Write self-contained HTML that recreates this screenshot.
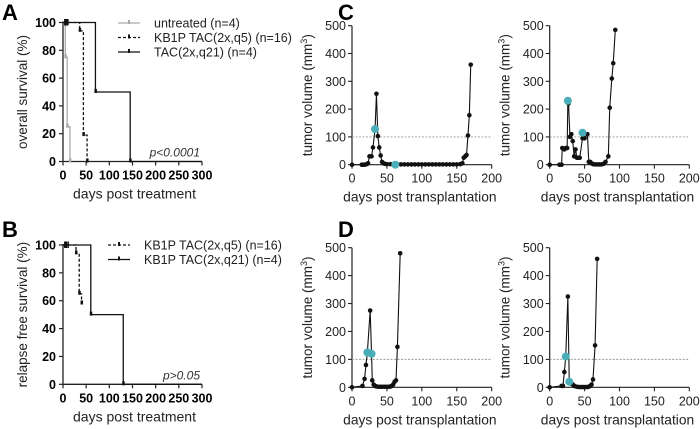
<!DOCTYPE html>
<html><head><meta charset="utf-8"><style>
html,body{margin:0;padding:0;background:#fff}
svg{display:block;font-family:"Liberation Sans",Arial,sans-serif}
</style></head><body>
<svg id="fig" width="700" height="429" viewBox="0 0 700 429" xmlns="http://www.w3.org/2000/svg"></svg>
<script>
// ---- survival data (A) ----
const aUntreatedT=[0,5,9,15];
const aUntreatedS=[100,75,25,0];
const aQ5T=[0,36,44,52];
const aQ5S=[100,94,19,0];
const aQ21T=[0,70,145];
const aQ21S=[100,50,0];
// ---- survival data (B) ----
const bQ5T=[0,28,35,40];
const bQ5S=[100,94,65,58];
const bQ21T=[0,60,130];
const bQ21S=[100,50,0];
const survXTicks=[0,50,100,150,200,250,300];
const survYTicks=[0,20,40,60,80,100];
// ---- tumor volume data ----
const c1Days=[0,14,16,18,21,23,25,28,30,33,35,37,39,41,43,45,47,50,55,60,65,70,75,80,85,90,95,100,105,110,115,120,125,130,135,140,145,150,155,158,160,162,164,166,168,170];
const c1Vol=[0,0,0,0,2,5,30,30,62,128,255,103,62,33,10,5,3,2,2,1,1,1,1,1,1,1,1,1,1,1,1,1,1,1,1,1,1,1,2,5,25,30,35,105,178,360];
const c1CyanD=[33,62];const c1CyanV=[128,0];
const c2Days=[0,14,17,18,21,23,25,26,27,29,31,33,35,37,39,41,43,47,50,54,56,58,60,62,65,68,71,74,77,80,84,86,89,91,94];
const c2Vol=[0,0,0,60,55,60,60,230,220,100,110,85,30,55,25,25,25,95,95,110,10,10,5,2,1,1,1,1,3,10,30,205,310,365,485];
const c2CyanD=[26,47];const c2CyanV=[230,115];
const d1Days=[0,15,18,20,22,26,28,29,31,33,35,38,41,44,47,50,53,55,57,59,61,63,65,69];
const d1Vol=[0,5,30,80,125,275,120,25,10,5,3,2,2,2,2,2,2,3,5,10,20,25,145,480];
const d1CyanD=[22,28];const d1CyanV=[125,120];
const d2Days=[0,17,19,21,23,26,28,30,32,34,36,39,42,45,48,51,54,56,58,60,62,65,68];
const d2Vol=[0,5,5,55,110,325,20,20,12,8,4,2,1,1,1,1,1,2,5,10,28,150,460];
const d2CyanD=[23,28];const d2CyanV=[110,20];
const volXTicks=[0,50,100,150,200];
const volYTicks=[0,100,200,300,400,500];

const NS="http://www.w3.org/2000/svg";
const svg=document.getElementById('fig');
function el(tag,attrs,parent,text){const e=document.createElementNS(NS,tag);for(const k in attrs)e.setAttribute(k,attrs[k]);if(text!==undefined)e.textContent=text;(parent||svg).appendChild(e);return e;}

function letter(ch,x,y){const t=el('text',{x:x,y:y,'font-size':22,'font-weight':'bold',fill:'#000'},svg,ch);

}

function survPanel(id,x0,x1,y0,y100,series,ylabel,ptext){
  const g=el('g',{});
  
  
  const sx=d=>x0+(x1-x0)*d/300, sy=v=>y0+(y100-y0)*v/100;
  const ax=el('path',{d:`M${x0},${y100-1}V${y0}H${x1}`,stroke:'#222',fill:'none','stroke-width':1.3},g);
  
  
  survXTicks.forEach(t=>{el('line',{x1:sx(t),x2:sx(t),y1:y0,y2:y0+4,stroke:'#222','stroke-width':1.2},g);
    const tl=el('text',{x:sx(t),y:y0+18,'font-size':12.5,'font-weight':'bold','text-anchor':'middle'},g,t);
    
    });
  survYTicks.forEach(t=>{el('line',{x1:x0-4,x2:x0,y1:sy(t),y2:sy(t),stroke:'#222','stroke-width':1.2},g);
    const tl=el('text',{x:x0-7,y:sy(t)+4.5,'font-size':12.5,'font-weight':'bold','text-anchor':'end'},g,t);
    
    });
  const xt=el('text',{x:(x0+x1)/2+2,y:y0+37,'font-size':14,'text-anchor':'middle',fill:'#222'},g,'days post treatment');
  
  
  const yt=el('text',{transform:`translate(${x0-36},${(y0+y100)/2}) rotate(-90)`,'font-size':13.5,'text-anchor':'middle',fill:'#222'},g,ylabel);
  
  
  const pt=el('text',{x:x1-2,y:y0-5,'font-size':12,'font-style':'italic','text-anchor':'end',fill:'#333'},g,ptext);
  
  
  series.forEach(s=>{
    let d=`M${sx(s.t[0])},${sy(s.s[0])}`;
    for(let i=1;i<s.t.length;i++){d+=`H${sx(s.t[i])}V${sy(s.s[i])}`;}
    if(s.tail) d+=`H${sx(s.tail)}`;
    const p=el('path',{d:d,stroke:s.c,fill:'none','stroke-width':1.3,'stroke-dasharray':s.dash||'none'},g);
    
    
    s.cens.forEach(c=>{el('line',{x1:sx(c),x2:sx(c),y1:sy(100)-3.5,y2:sy(100)+3,stroke:s.c,'stroke-width':1.6},g);});
    for(let i=1;i<s.t.length;i++){el('rect',{x:sx(s.t[i])-1,y:sy(s.s[i])-3,width:2.5,height:4,fill:s.c},g);}
  });
  return g;
}
function legend(x,y,items){
  items.forEach((it,i)=>{
    const yy=y+i*14.5;
    const g=el('g',{});
    
    
    el('line',{x1:x,x2:x+22,y1:yy,y2:yy,stroke:it.c,'stroke-width':1.3,'stroke-dasharray':it.dash||'none'},g);
    el('rect',{x:x+10,y:yy-3,width:2,height:4,fill:it.c},g);
    el('text',{x:x+36,y:yy+4.5,'font-size':12.5,fill:'#222'},g,it.label);
  });
}
function volPanel(id,x0,x1,y0,y500,days,vol,cd,cv){
  const g=el('g',{});
  
  
  const sx=d=>x0+(x1-x0)*d/200, sy=v=>y0+(y500-y0)*v/500;
  const ax=el('path',{d:`M${x0},${y500}V${y0}H${x1}`,stroke:'#222',fill:'none','stroke-width':1.2},g);
  
  
  const th=el('line',{x1:x0,x2:x1,y1:sy(100),y2:sy(100),stroke:'#999','stroke-width':0.9,'stroke-dasharray':'2,1.5'},g);
  
  
  volXTicks.forEach(t=>{el('line',{x1:sx(t),x2:sx(t),y1:y0,y2:y0+4,stroke:'#222','stroke-width':1.1},g);
    const tl=el('text',{x:sx(t),y:y0+18,'font-size':12.5,'text-anchor':'middle',fill:'#222'},g,t);
    
    });
  volYTicks.forEach(t=>{el('line',{x1:x0-4,x2:x0,y1:sy(t),y2:sy(t),stroke:'#222','stroke-width':1.1},g);
    const tl=el('text',{x:x0-6,y:sy(t)+4.5,'font-size':12.5,'text-anchor':'end',fill:'#222'},g,t);
    
    });
  const xt=el('text',{x:(x0+x1)/2-2,y:y0+37,'font-size':13.8,'text-anchor':'middle',fill:'#222'},g,'days post transplantation');
  
  
  const yt=el('text',{transform:`translate(${x0-40},${(y0+y500)/2}) rotate(-90)`,'font-size':13.5,'text-anchor':'middle',fill:'#222'},g);
  
  
  yt.innerHTML='tumor volume (mm<tspan dy="-5" font-size="9">3</tspan><tspan dy="5">)</tspan>';
  const line=el('polyline',{points:days.map((d,i)=>sx(d)+','+sy(vol[i])).join(' '),fill:'none',stroke:'#111','stroke-width':1.1},g);
  
  
  days.forEach((d,i)=>{const c=el('circle',{cx:sx(d),cy:sy(vol[i]),r:2.3,fill:'#111'},g);
    
    });
  cd.forEach((d,i)=>{const c=el('circle',{cx:sx(d),cy:sy(cv[i]),r:4,fill:'#4aaeb8'},g);
    
    });
}

letter('A',2,20);letter('B',2,237);letter('C',338,20);letter('D',338,237);

survPanel('a',63,202,161.5,22.5,[
 {t:aUntreatedT,s:aUntreatedS,c:'#aaa',cens:[6,11],name:'untreated-curve'},
 {t:aQ5T,s:aQ5S,c:'#111',dash:'3,2',cens:[4,7,10],name:'kb1p-q5-curve'},
 {t:aQ21T,s:aQ21S,c:'#111',cens:[],tail:300,name:'tac-q21-curve'}
],'overall survival (%)','p<0.0001');
legend(118,23,[{c:'#aaa',label:'untreated (n=4)'},{c:'#111',dash:'3,2',label:'KB1P TAC(2x,q5) (n=16)'},{c:'#111',label:'TAC(2x,q21) (n=4)'}]);

survPanel('b',63,202,384.3,245,[
 {t:bQ5T,s:bQ5S,c:'#111',dash:'3,2',cens:[4,7,11],name:'kb1p-q5-curve'},
 {t:bQ21T,s:bQ21S,c:'#111',cens:[],tail:300,name:'kb1p-q21-curve'}
],'relapse free survival (%)','p>0.05');
legend(108,245,[{c:'#111',dash:'3,2',label:'KB1P TAC(2x,q5) (n=16)'},{c:'#111',label:'KB1P TAC(2x,q21) (n=4)'}]);

volPanel('c1',352,491.7,164.7,25.7,c1Days,c1Vol,c1CyanD,c1CyanV);
volPanel('c2',549.7,689.3,164.7,25.7,c2Days,c2Vol,c2CyanD,c2CyanV);
volPanel('d1',352,491.7,387.3,247.7,d1Days,d1Vol,d1CyanD,d1CyanV);
volPanel('d2',549.7,689.3,387.3,247.7,d2Days,d2Vol,d2CyanD,d2CyanV);
</script>
</body></html>
